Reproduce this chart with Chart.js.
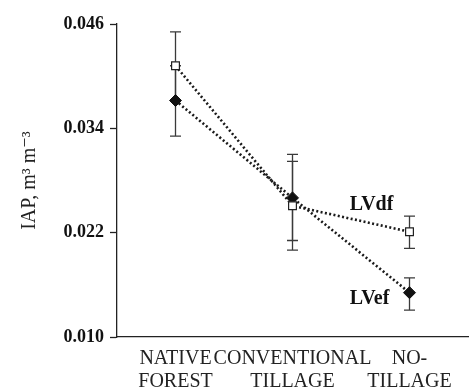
<!DOCTYPE html>
<html>
<head>
<meta charset="utf-8">
<script src="https://cdn.jsdelivr.net/npm/chart.js@4.4.0/dist/chart.umd.min.js"></script>
<style>
  html, body { margin: 0; padding: 0; background: #fff; }
  #wrap { width: 475px; height: 387px; }
</style>
</head>
<body>
<div id="wrap"><canvas id="iapChart" width="475" height="387"></canvas></div>
<script>
// --- DATA ---
const categories = [['NATIVE', 'FOREST'], ['CONVENTIONAL', 'TILLAGE'], ['NO-', 'TILLAGE']];
const yTicks = [0.010, 0.022, 0.034, 0.046];

const lvdf = [0.0412, 0.0251, 0.0221];
const lvdfLow = [0.0372, 0.0200, 0.0202];
const lvdfHigh = [0.0451, 0.0302, 0.0239];

const lvef = [0.0372, 0.0260, 0.0151];
const lvefLow = [0.0331, 0.0211, 0.0131];
const lvefHigh = [0.0412, 0.0310, 0.0168];

const serif = '"Liberation Serif", "DejaVu Serif", serif';

// error bars + series names, drawn through the chart scales
const errorBarPlugin = {
    id: 'errorBars',
    beforeDatasetsDraw(chart) {
        const ctx = chart.ctx;
        const xs = chart.scales.x;
        const ys = chart.scales.y;
        ctx.save();
        ctx.strokeStyle = '#3a3a3a';
        ctx.lineWidth = 1.3;
        chart.data.datasets.forEach(ds => {
            ds.data.forEach((v, i) => {
                const x = xs.getPixelForValue(i);
                const yLo = ys.getPixelForValue(ds.errLow[i]);
                const yHi = ys.getPixelForValue(ds.errHigh[i]);
                ctx.beginPath();
                ctx.moveTo(x, yLo); ctx.lineTo(x, yHi);
                ctx.moveTo(x - 5.5, yLo); ctx.lineTo(x + 5.5, yLo);
                ctx.moveTo(x - 5.5, yHi); ctx.lineTo(x + 5.5, yHi);
                ctx.stroke();
            });
        });
        ctx.restore();
    },
    afterDatasetsDraw(chart) {
        const ctx = chart.ctx;
        const xs = chart.scales.x;
        const ys = chart.scales.y;
        const last = categories.length - 1;
        ctx.save();
        ctx.fillStyle = '#111';
        ctx.font = 'bold 20px ' + serif;
        ctx.textAlign = 'center';
        ctx.textBaseline = 'middle';
        ctx.fillText('LVdf', xs.getPixelForValue(last) - 38, ys.getPixelForValue(lvdf[last]) - 27);
        ctx.fillText('LVef', xs.getPixelForValue(last) - 40, ys.getPixelForValue(lvef[last]) + 6);
        ctx.restore();
    }
};

new Chart(document.getElementById('iapChart'), {
    type: 'line',
    data: {
        labels: categories,
        datasets: [
            {
                label: 'LVdf',
                data: lvdf,
                errLow: lvdfLow,
                errHigh: lvdfHigh,
                borderColor: '#1a1a1a',
                borderWidth: 2.6,
                borderDash: [2, 2.4],
                pointStyle: 'rect',
                pointRadius: 5.5,
                pointBackgroundColor: '#fff',
                pointBorderColor: '#222',
                pointBorderWidth: 1.2,
                tension: 0
            },
            {
                label: 'LVef',
                data: lvef,
                errLow: lvefLow,
                errHigh: lvefHigh,
                borderColor: '#1a1a1a',
                borderWidth: 2.6,
                borderDash: [2, 2.4],
                pointStyle: 'rectRot',
                pointRadius: 6,
                pointBackgroundColor: '#111',
                pointBorderColor: '#111',
                pointBorderWidth: 1,
                tension: 0
            }
        ]
    },
    options: {
        responsive: false,
        animation: false,
        layout: { padding: { top: 24, right: 7, left: 0, bottom: 0 } },
        plugins: {
            legend: { display: false },
            tooltip: { enabled: false }
        },
        scales: {
            x: {
                offset: true,
                grid: { display: true, drawOnChartArea: false, drawTicks: false },
                border: { display: true, color: '#222', width: 1.3 },
                ticks: {
                    color: '#222',
                    padding: 10,
                    maxRotation: 0,
                    autoSkip: false,
                    font: { family: serif, size: 20, lineHeight: 1.15 }
                },
                afterFit: s => { s.height = 50; }
            },
            y: {
                min: 0.010,
                max: 0.046,
                afterBuildTicks: s => { s.ticks = yTicks.map(v => ({ value: v })); },
                grid: { drawOnChartArea: false, tickLength: 7, color: '#222', tickWidth: 1.3 },
                border: { display: true, color: '#222', width: 1.3 },
                ticks: {
                    color: '#111',
                    padding: 6,
                    font: { family: serif, size: 18, weight: 'bold' },
                    callback: v => v.toFixed(3)
                },
                title: {
                    display: true,
                    text: 'IAP, m³ m⁻³',
                    color: '#222',
                    padding: { top: 18, bottom: 4 },
                    font: { family: serif, size: 20 }
                },
                afterFit: s => { s.width = 117; }
            }
        }
    },
    plugins: [errorBarPlugin]
});
</script>
</body>
</html>
